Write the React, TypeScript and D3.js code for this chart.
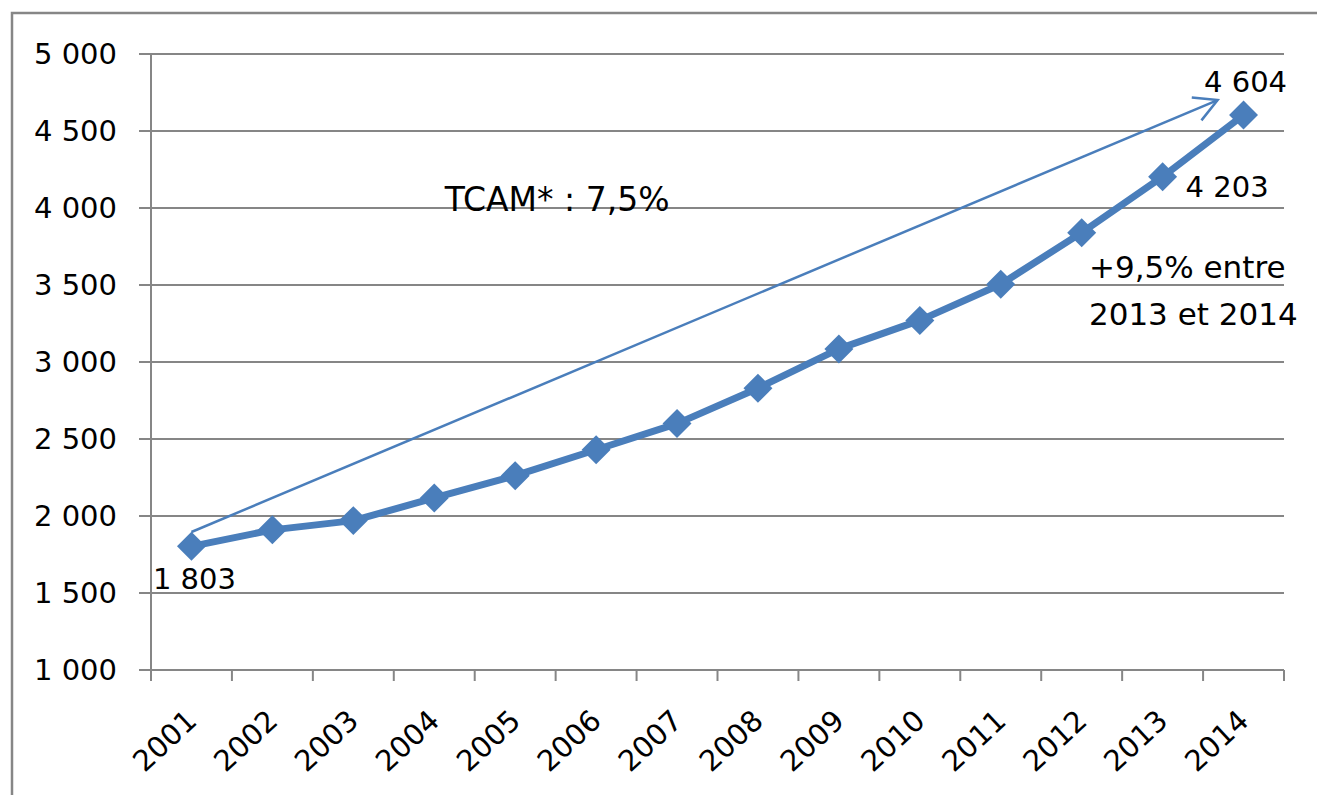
import React, { useEffect, useRef } from 'react';
import * as d3 from 'd3';

const years = ['2001', '2002', '2003', '2004', '2005', '2006', '2007', '2008', '2009', '2010', '2011', '2012', '2013', '2014'];
const values = [1803, 1910, 1970, 2117, 2262, 2430, 2600, 2830, 3085, 3270, 3505, 3840, 4203, 4604];
const yTicks = [1000, 1500, 2000, 2500, 3000, 3500, 4000, 4500, 5000];

// arrow (TCAM) expressed in data space: [category index, value]
const arrowFrom: [number, number] = [0, 1896];
const arrowTo: [number, number] = [12.68, 4701];

const FONT = '"DejaVu Sans", sans-serif';
const GREY = '#868686';
const BLUE = '#4a7ebb';

const fmt = (v: number) => d3.format(',')(v).replace(/,/g, ' ');

const App: React.FC = () => {
  const ref = useRef<SVGSVGElement>(null);

  useEffect(() => {
    if (!ref.current) return;
    document.body.style.margin = '0';
    document.body.style.overflow = 'hidden';
    const W = 1317, H = 795;
    const left = 151, right = 1284, top = 54, bottom = 670;

    const svg = d3.select(ref.current);
    svg.selectAll('*').remove();
    svg.attr('width', W).attr('height', H);

    svg.append('rect')
      .attr('width', W).attr('height', H).attr('fill', '#fff');

    // outer chart frame (only left and top edges are in view)
    svg.append('path')
      .attr('d', `M12,${H + 5}V13H${W + 5}`)
      .attr('fill', 'none').attr('stroke', GREY).attr('stroke-width', 2.5);

    const x = d3.scaleBand<string>().domain(years).range([left, right]);
    const xi = d3.scaleLinear()
      .domain([0, years.length - 1])
      .range([left + x.bandwidth() / 2, right - x.bandwidth() / 2]);
    const y = d3.scaleLinear().domain([1000, 5000]).range([bottom, top]);

    // gridlines + y labels
    svg.append('g').selectAll('line')
      .data(yTicks)
      .enter().append('line')
      .attr('x1', left - 12).attr('x2', right)
      .attr('y1', d => y(d)).attr('y2', d => y(d))
      .attr('stroke', GREY).attr('stroke-width', 2);

    svg.append('g').selectAll('text')
      .data(yTicks)
      .enter().append('text')
      .attr('x', 117)
      .attr('y', d => y(d) + 10)
      .attr('text-anchor', 'end')
      .attr('font-family', FONT)
      .attr('font-size', 29)
      .attr('fill', '#000')
      .text(d => fmt(d));

    // y axis line
    svg.append('line')
      .attr('x1', left).attr('x2', left)
      .attr('y1', top).attr('y2', bottom + 10)
      .attr('stroke', GREY).attr('stroke-width', 2);

    // x ticks at category boundaries
    const bounds = years.map(d => x(d) as number).concat([right]);
    svg.append('g').selectAll('line')
      .data(bounds)
      .enter().append('line')
      .attr('x1', d => d).attr('x2', d => d)
      .attr('y1', bottom).attr('y2', bottom + 11)
      .attr('stroke', GREY).attr('stroke-width', 2);

    // year labels
    svg.append('g').selectAll('text')
      .data(years)
      .enter().append('text')
      .attr('transform', d => `translate(${(x(d) as number) + x.bandwidth() / 2 + 7},${bottom + 53}) rotate(-43)`)
      .attr('text-anchor', 'end')
      .attr('font-family', FONT)
      .attr('font-size', 29)
      .attr('fill', '#000')
      .text(d => d);

    // TCAM arrow
    const ax1 = xi(arrowFrom[0]), ay1 = y(arrowFrom[1]);
    const ax2 = xi(arrowTo[0]), ay2 = y(arrowTo[1]);
    svg.append('line')
      .attr('x1', ax1).attr('y1', ay1).attr('x2', ax2).attr('y2', ay2)
      .attr('stroke', BLUE).attr('stroke-width', 2.5);
    const ang = Math.atan2(ay2 - ay1, ax2 - ax1);
    const head = 26, spread = 0.5;
    const headPath = d3.path();
    headPath.moveTo(ax2 - head * Math.cos(ang - spread), ay2 - head * Math.sin(ang - spread));
    headPath.lineTo(ax2, ay2);
    headPath.lineTo(ax2 - head * Math.cos(ang + spread), ay2 - head * Math.sin(ang + spread));
    svg.append('path')
      .attr('d', headPath.toString())
      .attr('fill', 'none').attr('stroke', BLUE).attr('stroke-width', 2.5);

    // series line
    const line = d3.line<number>()
      .x((d, i) => xi(i))
      .y(d => y(d));
    svg.append('path')
      .datum(values)
      .attr('d', line)
      .attr('fill', 'none')
      .attr('stroke', BLUE)
      .attr('stroke-width', 7)
      .attr('stroke-linejoin', 'round');

    // diamond markers
    const diamond = d3.symbol().type(d3.symbolSquare).size(420);
    svg.append('g').selectAll('path')
      .data(values)
      .enter().append('path')
      .attr('d', diamond)
      .attr('transform', (d, i) => `translate(${xi(i)},${y(d)}) rotate(45)`)
      .attr('fill', BLUE);

    // data labels
    const labelAt = (i: number, dx: number, dy: number, anchor: string) => {
      svg.append('text')
        .attr('x', xi(i) + dx).attr('y', y(values[i]) + dy)
        .attr('text-anchor', anchor)
        .attr('font-family', FONT)
        .attr('font-size', 29)
        .attr('fill', '#000')
        .text(fmt(values[i]));
    };
    labelAt(0, 3, 43, 'middle');
    labelAt(12, 23, 20, 'start');
    labelAt(13, 2, -23, 'middle');

    // annotations
    svg.append('text')
      .attr('x', xi(3.13)).attr('y', y(3980))
      .attr('font-family', FONT).attr('font-size', 33).attr('fill', '#000')
      .text('TCAM* : 7,5%');

    const note = svg.append('text')
      .attr('x', xi(11.09)).attr('y', y(3545))
      .attr('font-family', FONT).attr('font-size', 31).attr('fill', '#000');
    note.append('tspan').text('+9,5% entre');
    note.append('tspan').attr('x', xi(11.09)).attr('dy', 47).text('2013 et 2014');
  }, []);

  return (
    <svg ref={ref} style={{ position: 'absolute', left: 0, top: 0, display: 'block' }} />
  );
};

export default App;
